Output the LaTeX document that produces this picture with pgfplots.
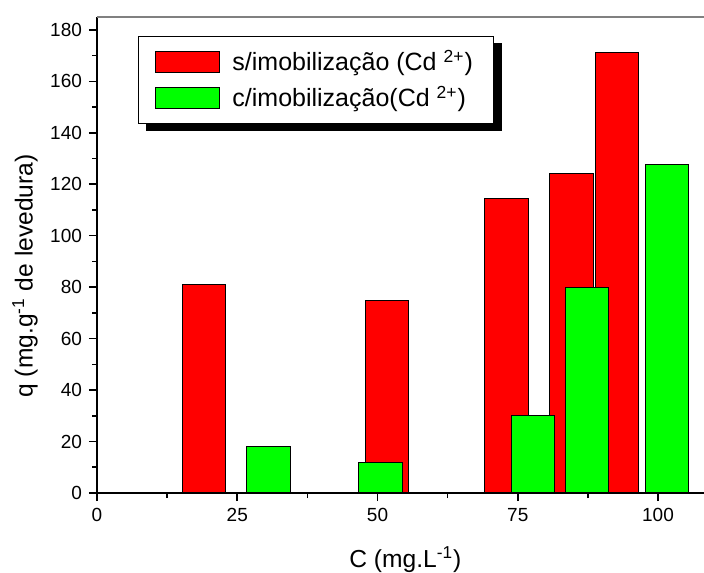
\documentclass[border=0pt]{standalone}
\usepackage{fontspec}
\setmainfont{Liberation Sans}
\usepackage{pgfplots}
\pgfplotsset{compat=1.18}
\usetikzlibrary{backgrounds}
\begin{document}
\begin{tikzpicture}
\useasboundingbox (0,0) rectangle (352pt,286pt);
\begin{axis}[
  at={(48.5pt,39.5pt)}, anchor=south west,
  scale only axis, width=303.5pt, height=238pt,
  xmin=0, xmax=108.2, ymin=0, ymax=185,
  clip=false,
  axis line style={draw=none},
  xtick={0,25,50,75,100}, minor x tick num=1,
  ytick={0,20,...,180}, minor y tick num=1,
  tick align=outside, xtick pos=left, ytick pos=left,
  major tick length=4pt, minor tick length=2.5pt,
  tick style={black, line width=0.8pt},
  /pgf/number format/assume math mode=true,
  tick label style={font=\fontsize{9.5}{11}\selectfont},
  xlabel={C (mg.L\textsuperscript{-1})},
  ylabel={q (mg.g\textsuperscript{-1} de levedura)},
  label style={font=\fontsize{12.3}{14}\selectfont},
  xlabel style={at={(axis description cs:0.508,-0.14)}, anchor=center},
  ylabel style={at={(axis description cs:-0.1186,0.456)}, anchor=center, rotate=0},
  legend style={at={(axis cs:7.3,177.8)}, anchor=north west, name=leg,
    draw=black, line width=0.5pt, fill=white,
    font=\fontsize{12.5}{15}\selectfont,
    inner xsep=8.5pt, inner ysep=5pt, row sep=2pt},
  legend cell align=left,
  mybar/.style={ybar, bar width=7.75, bar shift=0pt, draw=black, line width=0.5pt,
    legend image code/.code={\draw[##1, line width=0.5pt] (0pt,-5.25pt) rectangle (32pt,5.25pt); \path (36pt,0pt);}},
]
\addplot[mybar, fill=red] coordinates {(19.1,81) (51.7,75) (73.0,114.6) (84.6,124) (92.7,171.3)};
\addlegendentry{s/imobilização (Cd \textsuperscript{2+})}
\addplot[mybar, fill=green] coordinates {(30.6,18) (50.5,12) (77.7,30) (87.3,80) (101.6,127.5)};
\addlegendentry{c/imobilização(Cd \textsuperscript{2+})}
\draw[black, line width=1pt] (rel axis cs:0,1) -- (rel axis cs:0,0) -- (rel axis cs:1,0);
\draw[gray, line width=0.6pt] (rel axis cs:0,1) -- (rel axis cs:1,1);
\end{axis}
\begin{pgfonlayer}{background}
\fill[black] ([xshift=4pt,yshift=-3.5pt]leg.south west) rectangle ([xshift=4pt,yshift=-3.5pt]leg.north east);
\end{pgfonlayer}
\end{tikzpicture}
\end{document}
